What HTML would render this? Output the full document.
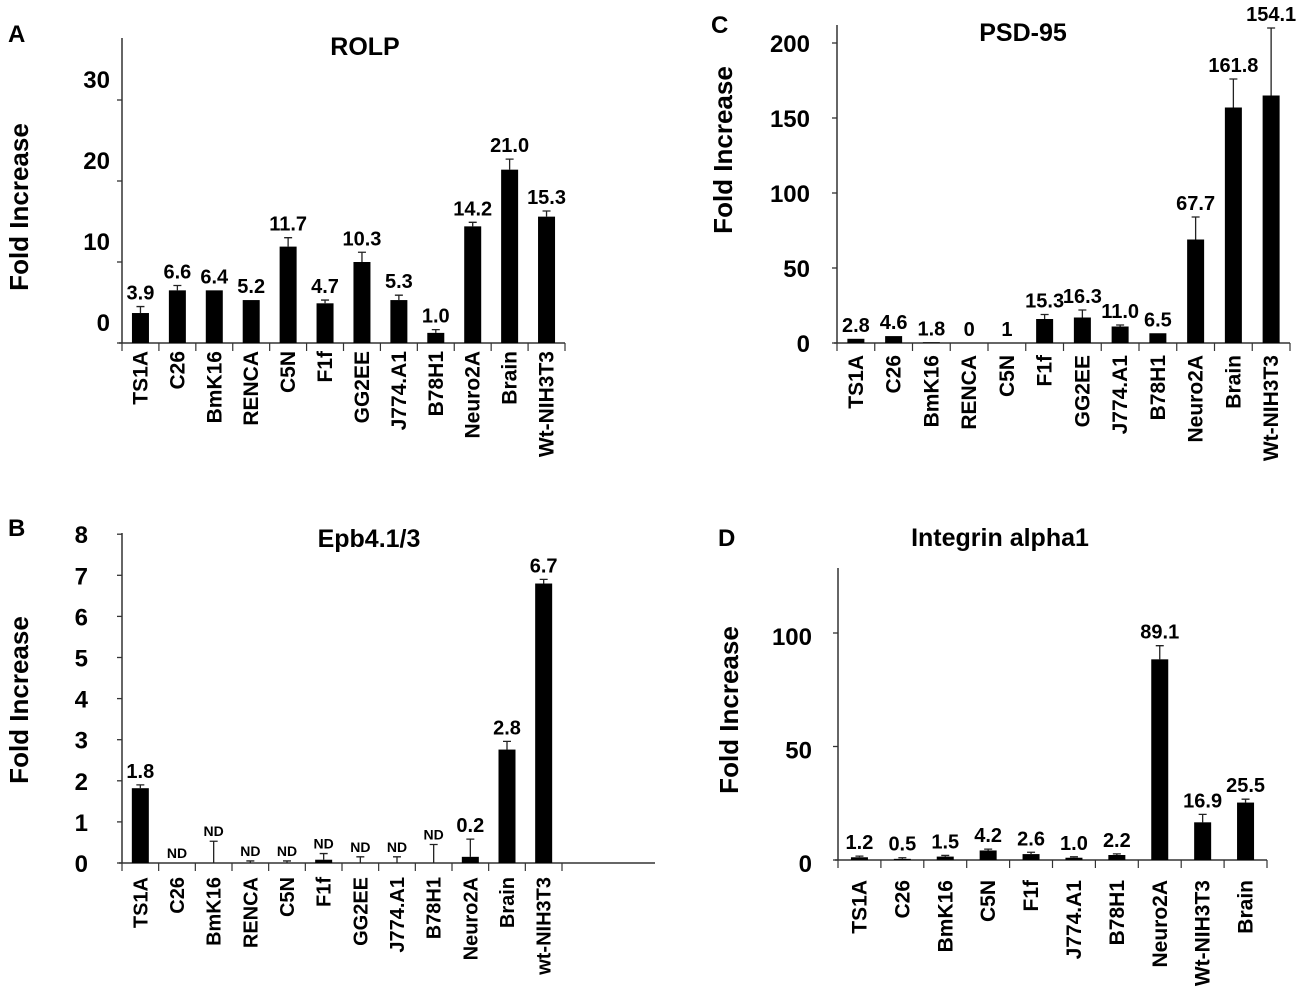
<!DOCTYPE html>
<html><head><meta charset="utf-8"><style>
html,body{margin:0;padding:0;background:#fff;}
svg{display:block;font-family:"Liberation Sans",Arial,sans-serif;font-weight:bold;}
</style></head><body>
<svg id="fig" width="1299" height="1000" viewBox="0 0 1299 1000"></svg>
<script>
// ---- Panel A: ROLP ----
const aCats = ["TS1A","C26","BmK16","RENCA","C5N","F1f","GG2EE","J774.A1","B78H1","Neuro2A","Brain","Wt-NIH3T3"];
const aVals = [3.7,6.5,6.5,5.3,11.9,4.9,10.0,5.3,1.25,14.4,21.4,15.6];
const aErrs = [0.8,0.6,0,0,1.1,0.4,1.2,0.6,0.4,0.5,1.3,0.7];
const aLabels = ["3.9","6.6","6.4","5.2","11.7","4.7","10.3","5.3","1.0","14.2","21.0","15.3"];
const aTicks = [0,10,20,30];
// ---- Panel B: Epb4.1/3 ----
const bCats = ["TS1A","C26","BmK16","RENCA","C5N","F1f","GG2EE","J774.A1","B78H1","Neuro2A","Brain","wt-NIH3T3"];
const bVals = [1.82,0,0,0,0,0.08,0,0,0,0.15,2.76,6.8];
const bErrs = [0.08,0,0.53,0.05,0.05,0.15,0.15,0.15,0.45,0.43,0.2,0.1];
const bLabels = ["1.8","ND","ND","ND","ND","ND","ND","ND","ND","0.2","2.8","6.7"];
const bTicks = [0,1,2,3,4,5,6,7,8];
// ---- Panel C: PSD-95 ----
const cCats = ["TS1A","C26","BmK16","RENCA","C5N","F1f","GG2EE","J774.A1","B78H1","Neuro2A","Brain","Wt-NIH3T3"];
const cVals = [2.8,4.6,0.5,0,0,16,17,11,6.5,69,157,165];
const cErrs = [0,0,0,0,0,3,5,1,0,15,19,45];
const cLabels = ["2.8","4.6","1.8","0","1","15.3","16.3","11.0","6.5","67.7","161.8","154.1"];
const cTicks = [0,50,100,150,200];
// ---- Panel D: Integrin alpha1 ----
const dCats = ["TS1A","C26","BmK16","C5N","F1f","J774.A1","B78H1","Neuro2A","Wt-NIH3T3","Brain"];
const dVals = [1.2,0.5,1.5,4.2,2.6,1.0,2.2,88.4,16.6,25.3];
const dErrs = [0.5,0.5,0.5,0.6,0.8,0.4,0.5,6,3.5,1.5];
const dLabels = ["1.2","0.5","1.5","4.2","2.6","1.0","2.2","89.1","16.9","25.5"];
const dTicks = [0,50,100];

const NS = "http://www.w3.org/2000/svg";
const svg = document.getElementById("fig");
function mk(tag, attrs, parent){
  const e = document.createElementNS(NS, tag);
  for (const k in attrs) e.setAttribute(k, attrs[k]);
  (parent||svg).appendChild(e);
  return e;
}

function panel(p){
  const g = mk("g", {});
  
  
  const y = v => p.y0 - (v - 0) * p.k;
  const n = p.cats.length;
  const cw = (p.x1 - p.x0) / n;
  const xc = i => p.x0 + cw * (i + 0.5);

  const letter = mk("text", {x:p.lx, y:p.ly, "font-size":24}, g);
  letter.textContent = p.letter;
  
  

  const title = mk("text", {x:p.tx, y:p.ty, "font-size":25, "text-anchor":"middle"}, g);
  title.textContent = p.title;
  
  

  const yt = mk("text", {transform:`translate(${p.ytx},${p.yty}) rotate(-90)`, "font-size":26, "text-anchor":"middle"}, g);
  yt.textContent = "Fold Increase";
  
  

  const ya = mk("line", {x1:p.x0, y1:p.ytop, x2:p.x0, y2:p.y0, stroke:"#333", "stroke-width":1.5}, g);
  
  
  const xa = mk("line", {x1:p.x0-3, y1:p.y0, x2:p.xend, y2:p.y0, stroke:"#333", "stroke-width":1.5}, g);
  
  

  p.ticks.forEach(t => {
    const tm = mk("line", {x1:p.x0-5, y1:y(t), x2:p.x0, y2:y(t), stroke:"#333", "stroke-width":1.3}, g);
    
    
    const tl = mk("text", {x:p.tlx, y:y(t) + p.tlOff + 9, "font-size":24, "text-anchor":"end"}, g);
    tl.textContent = String(t);
    
    
  });

  for (let i = 0; i <= n; i++){
    const cx = p.x0 + cw * i;
    const ct = mk("line", {x1:cx, y1:p.y0, x2:cx, y2:p.y0+8, stroke:"#333", "stroke-width":1.2}, g);
    
    
  }

  p.cats.forEach((c, i) => {
    const v = p.vals[i], e = p.errs[i], x = xc(i);
    if (v > 0){
      const b = mk("rect", {x:x-8.5, y:y(v), width:17, height:p.y0 - y(v), fill:"#000"}, g);
      
      
    }
    if (e > 0){
      const eb = mk("path", {d:`M${x} ${y(v)} V${y(v+e)} M${x-4} ${y(v+e)} H${x+4}`, stroke:"#222", "stroke-width":1.3, fill:"none"}, g);
      
      
    }
    const lab = p.labels[i];
    const isND = lab === "ND";
    const vl = mk("text", {x:x, y:y(v+e) - (isND ? 5 : 7), "font-size": isND ? 14 : p.vfs, "text-anchor":"middle"}, g);
    vl.textContent = lab;
    
    
    const cl = mk("text", {transform:`translate(${x+7},${p.cly}) rotate(-90)`, "font-size":p.cfs, "text-anchor":"end"}, g);
    cl.textContent = c;
    
    
  });
}

panel({id:"a", letter:"A", lx:8, ly:42, title:"ROLP", tx:365, ty:55, ytx:28, yty:207,
  x0:122, x1:565, xend:565, y0:343, ytop:38, k:8.1, ticks:aTicks, tlx:110, tlOff:-21,
  cats:aCats, vals:aVals, errs:aErrs, labels:aLabels, vfs:20, cly:351, cfs:21});
panel({id:"c", letter:"C", lx:711, ly:33, title:"PSD-95", tx:1023, ty:41, ytx:732, yty:150,
  x0:837, x1:1290, xend:1290, y0:343, ytop:25, k:1.5, ticks:cTicks, tlx:810, tlOff:0,
  cats:cCats, vals:cVals, errs:cErrs, labels:cLabels, vfs:20, cly:355, cfs:21});
panel({id:"b", letter:"B", lx:8, ly:536, title:"Epb4.1/3", tx:369, ty:547, ytx:28, yty:700,
  x0:122, x1:562, xend:655, y0:863, ytop:533, k:41.1, ticks:bTicks, tlx:88, tlOff:0,
  cats:bCats, vals:bVals, errs:bErrs, labels:bLabels, vfs:20, cly:877, cfs:20});
panel({id:"d", letter:"D", lx:718, ly:546, title:"Integrin alpha1", tx:1000, ty:546, ytx:738, yty:710,
  x0:838, x1:1267, xend:1267, y0:860, ytop:568, k:2.27, ticks:dTicks, tlx:812, tlOff:3,
  cats:dCats, vals:dVals, errs:dErrs, labels:dLabels, vfs:20, cly:880, cfs:21});
</script>
</body></html>
